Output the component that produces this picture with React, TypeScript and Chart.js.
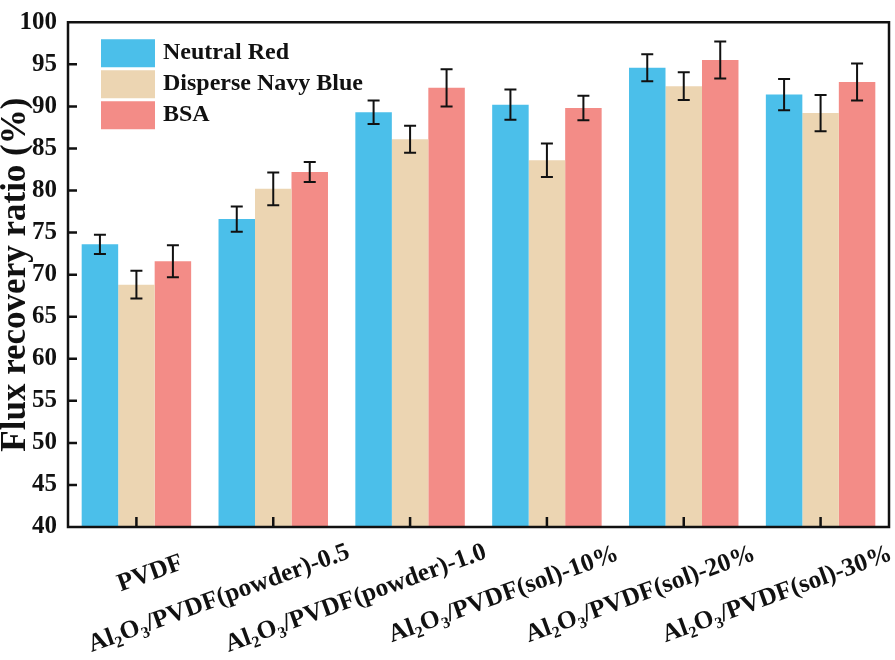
import { useEffect, useRef } from 'react';
import { Chart, registerables } from 'chart.js';

Chart.register(...registerables);

const FONT = "'Liberation Serif', 'Times New Roman', serif";

const categories = [
  'PVDF',
  'Al₂O₃/PVDF(powder)-0.5',
  'Al₂O₃/PVDF(powder)-1.0',
  'Al₂O₃/PVDF(sol)-10%',
  'Al₂O₃/PVDF(sol)-20%',
  'Al₂O₃/PVDF(sol)-30%',
];

const seriesNames = ['Neutral Red', 'Disperse Navy Blue', 'BSA'];
const seriesColors = ['#4bbfea', '#ecd5b2', '#f38c87'];

const neutralRed = [73.6, 76.6, 89.3, 90.2, 94.6, 91.4];
const neutralRedErr = [1.15, 1.5, 1.4, 1.8, 1.6, 1.85];
const disperseNavyBlue = [68.8, 80.2, 86.1, 83.6, 92.4, 89.2];
const disperseNavyBlueErr = [1.65, 1.95, 1.6, 2.0, 1.65, 2.15];
const bsa = [71.6, 82.2, 92.2, 89.8, 95.5, 92.9];
const bsaErr = [1.9, 1.2, 2.2, 1.45, 2.2, 2.2];

const yMin = 40;
const yMax = 100;
const yStep = 5;

const errors = [neutralRedErr, disperseNavyBlueErr, bsaErr];

const SUBS: Record<string, string> = { '₂': '2', '₃': '3' };

function splitRich(text: string) {
  const segs: { t: string; sub: boolean }[] = [];
  for (const ch of text) {
    const sub = ch in SUBS;
    const c = sub ? SUBS[ch] : ch;
    const last = segs[segs.length - 1];
    if (last && last.sub === sub) last.t += c;
    else segs.push({ t: c, sub });
  }
  return segs;
}

const errorBars = {
  id: 'errorBars',
  afterDatasetsDraw(chart: any) {
    const { ctx } = chart;
    const y = chart.scales.y;
    ctx.save();
    ctx.strokeStyle = '#111';
    ctx.lineWidth = 2;
    chart.data.datasets.forEach((ds: any, di: number) => {
      const meta = chart.getDatasetMeta(di);
      meta.data.forEach((bar: any, i: number) => {
        const v = ds.data[i];
        const e = errors[di][i];
        const top = y.getPixelForValue(v + e);
        const bot = y.getPixelForValue(v - e);
        const cap = 6;
        ctx.beginPath();
        ctx.moveTo(bar.x, top);
        ctx.lineTo(bar.x, bot);
        ctx.moveTo(bar.x - cap, top);
        ctx.lineTo(bar.x + cap, top);
        ctx.moveTo(bar.x - cap, bot);
        ctx.lineTo(bar.x + cap, bot);
        ctx.stroke();
      });
    });
    ctx.restore();
  },
};

const frame = {
  id: 'frame',
  afterDraw(chart: any) {
    const { ctx, chartArea: a } = chart;
    const x = chart.scales.x;
    const y = chart.scales.y;
    ctx.save();
    ctx.strokeStyle = '#111';
    ctx.lineWidth = 2.5;
    ctx.strokeRect(a.left, a.top, a.right - a.left, a.bottom - a.top);
    ctx.beginPath();
    categories.forEach((_, i) => {
      const px = x.getPixelForValue(i);
      ctx.moveTo(px, a.bottom);
      ctx.lineTo(px, a.bottom - 10);
    });
    for (let v = yMin + yStep; v < yMax; v += yStep) {
      const py = y.getPixelForValue(v);
      ctx.moveTo(a.left, py);
      ctx.lineTo(a.left + 9, py);
    }
    ctx.stroke();

    // x labels, rotated, Origin style
    const size = 25.5;
    const subSize = 16;
    ctx.fillStyle = '#111';
    ctx.textBaseline = 'alphabetic';
    ctx.textAlign = 'left';
    categories.forEach((lab, i) => {
      const px = x.getPixelForValue(i);
      const segs = splitRich(lab);
      let w = 0;
      segs.forEach((s) => {
        ctx.font = `bold ${s.sub ? subSize : size}px ${FONT}`;
        w += ctx.measureText(s.t).width;
      });
      ctx.save();
      ctx.translate(px + 33, a.bottom + 29);
      ctx.rotate((-20 * Math.PI) / 180);
      let cx = 0.15 * w - w;
      const base = size * 0.66;
      segs.forEach((s) => {
        ctx.font = `bold ${s.sub ? subSize : size}px ${FONT}`;
        ctx.fillText(s.t, cx, s.sub ? base + 5 : base);
        cx += ctx.measureText(s.t).width;
      });
      ctx.restore();
    });

    // legend in plot area
    ctx.font = `bold 24px ${FONT}`;
    ctx.textBaseline = 'middle';
    seriesNames.forEach((name, i) => {
      const bx = a.left + 33;
      const by = a.top + 17 + i * 31;
      ctx.fillStyle = seriesColors[i];
      ctx.fillRect(bx, by, 54, 28);
      ctx.fillStyle = '#111';
      ctx.fillText(name, bx + 62, by + 14);
    });
    ctx.restore();
  },
};

export default function App() {
  const canvasRef = useRef<HTMLCanvasElement>(null);
  const chartRef = useRef<Chart | null>(null);

  useEffect(() => {
    if (!canvasRef.current) return;
    if (chartRef.current) chartRef.current.destroy();
    const ctx = canvasRef.current.getContext('2d');
    if (!ctx) return;

    const values = [neutralRed, disperseNavyBlue, bsa];

    chartRef.current = new Chart(ctx, {
      type: 'bar',
      data: {
        labels: categories,
        datasets: seriesNames.map((name, i) => ({
          label: name,
          data: values[i],
          backgroundColor: seriesColors[i],
          borderWidth: 0,
          categoryPercentage: 0.8,
          barPercentage: 1.0,
        })),
      },
      options: {
        animation: false,
        responsive: true,
        maintainAspectRatio: false,
        layout: { padding: { top: 12, right: 6, left: 0, bottom: 0 } },
        plugins: {
          legend: { display: false },
          tooltip: { enabled: false },
        },
        scales: {
          x: {
            grid: { display: false, drawTicks: false },
            border: { display: false },
            ticks: { display: false },
            afterFit: (s: any) => {
              s.height = 133;
            },
          },
          y: {
            min: yMin,
            max: yMax,
            grid: { display: false, drawTicks: false },
            border: { display: false },
            ticks: {
              stepSize: yStep,
              padding: 11,
              color: '#111',
              font: { family: FONT, size: 25, weight: 'bold', lineHeight: 0.9 },
            },
            title: {
              display: true,
              text: 'Flux recovery ratio (%)',
              color: '#111',
              padding: 0,
              font: { family: FONT, size: 35, weight: 'bold', lineHeight: 0.92 },
            },
            afterFit: (s: any) => {
              s.width = 68;
            },
          },
        },
      },
      plugins: [errorBars, frame],
    });

    return () => {
      if (chartRef.current) {
        chartRef.current.destroy();
        chartRef.current = null;
      }
    };
  }, []);

  return (
    <div style={{ position: 'fixed', left: 0, top: 0, width: 895, height: 660, background: '#fff' }}>
      <canvas ref={canvasRef}></canvas>
    </div>
  );
}
